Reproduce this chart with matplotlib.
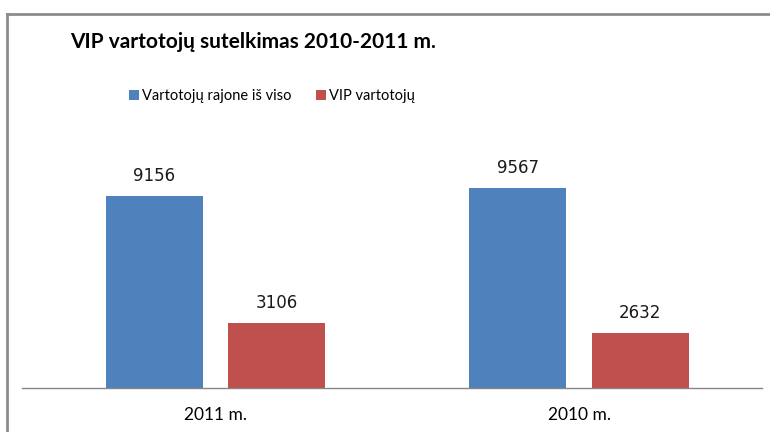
import matplotlib
matplotlib.use("Agg")
import matplotlib.pyplot as plt
from matplotlib.patches import Patch
from matplotlib.lines import Line2D
import numpy as np

categories = ["2011 m.", "2010 m."]
series_names = ["Vartotojų rajone iš viso", "VIP vartotojų"]
total_users = [9156, 9567]
vip_users = [3106, 2632]
colors = ["#4F81BD", "#C0504D"]

plt.rcParams['font.family'] = ['Lato', 'DejaVu Sans']

W, H = 770, 432
fig = plt.figure(figsize=(W / 100, H / 100), dpi=100)

ax_left, ax_right = 22, 762
ax_bottom, ax_top = 388, 137
ax = fig.add_axes([ax_left / W, (H - ax_bottom) / H, (ax_right - ax_left) / W, (ax_bottom - ax_top) / H])

x = np.arange(len(categories))
bw = 0.267
off = 0.1685
b1 = ax.bar(x - off, total_users, bw, color=colors[0])
b2 = ax.bar(x + off, vip_users, bw, color=colors[1])
for bars in (b1, b2):
    for r in bars:
        ax.annotate(f"{int(r.get_height())}", (r.get_x() + r.get_width() / 2, r.get_height()),
                    xytext=(0, 8), textcoords="offset points", ha="center", va="bottom",
                    fontsize=12, color="#1a1a1a", family=['DejaVu Sans'])

ax.set_xlim(-0.532, 1.503)
ax.set_ylim(0, 12000)
ax.set_yticks([])
ax.set_xticks(x)
ax.set_xticklabels(categories, fontsize=12.5)
ax.tick_params(axis='x', length=0, pad=14)
for s in ("top", "right", "left"):
    ax.spines[s].set_visible(False)
ax.spines["bottom"].set_color("#868686")
ax.spines["bottom"].set_linewidth(1.0)

# title
fig.text(70 / W, 1 - 42 / H, "VIP vartotojų sutelkimas 2010-2011 m.", fontsize=15, fontweight="bold",
         ha="left", va="center")

# legend
handles = [Patch(facecolor=c, edgecolor="none") for c in colors]
fig.legend(handles, series_names, loc="center", bbox_to_anchor=(272 / W, 1 - 96 / H), ncol=2,
           frameon=False, fontsize=10.5, handlelength=0.7, handleheight=0.75, handletextpad=0.2,
           columnspacing=1.7)

# outer chart border (top and left)
fig.add_artist(Line2D([7 / W, 1.0], [1 - 14 / H, 1 - 14 / H], transform=fig.transFigure,
                      color="#8C8C8C", linewidth=2))
fig.add_artist(Line2D([7 / W, 7 / W], [0.0, 1 - 14 / H], transform=fig.transFigure,
                      color="#8C8C8C", linewidth=2))

fig.savefig("out.png", dpi=100, facecolor="white")
